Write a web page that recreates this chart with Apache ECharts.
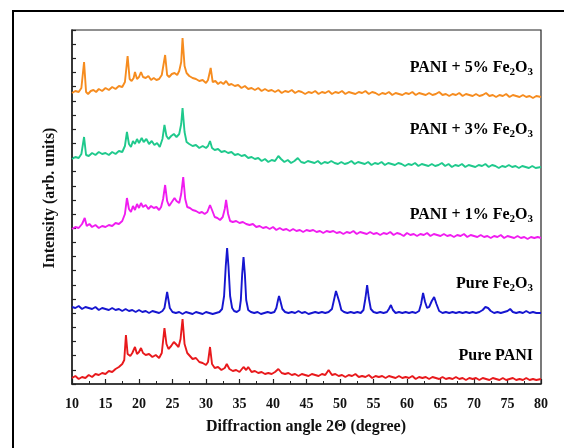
<!DOCTYPE html>
<html>
<head>
<meta charset="utf-8">
<script src="https://cdn.jsdelivr.net/npm/echarts@6/dist/echarts.min.js"></script>
<style>html,body{margin:0;padding:0;background:#fff}#c{width:564px;height:448px}</style>
</head>
<body>
<div id="c"></div>
<script>
// Series names (top to bottom in the figure)
const seriesNames = ['PANI + 5% Fe2O3', 'PANI + 3% Fe2O3', 'PANI + 1% Fe2O3', 'Pure Fe2O3', 'Pure PANI'];
// X axis ticks (2θ, degree)
const xTicks = [10, 15, 20, 25, 30, 35, 40, 45, 50, 55, 60, 65, 70, 75, 80];

// [2θ, intensity (arb. units, stacked offset)]
const purePANI = [[10,6],[10.5,8],[11,5],[11.5,7],[12,6],[12.5,9],[13,7],[13.5,10],[14,9],[14.5,11],[15,10],[15.5,13],[16,12],[16.5,15],[17,17],[17.5,20],[17.8,24],[18.05,49],[18.3,30],[18.7,28],[19,31],[19.4,37],[19.7,30],[20,32],[20.3,36],[20.6,31],[21,29],[21.5,30],[22,27],[22.5,29],[23,26],[23.4,31],[23.8,56],[24.1,40],[24.4,35],[24.8,38],[25.2,42],[25.5,40],[25.9,37],[26.2,45],[26.5,65],[26.8,40],[27.2,31],[27.6,28],[28,25],[28.5,26],[29,22],[29.5,21],[30,19],[30.3,22],[30.6,37],[30.9,20],[31.3,16],[31.8,17],[32.3,14],[32.8,16],[33.1,20],[33.5,15],[34,13],[34.5,14],[35,12],[35.6,17],[36,14],[36.3,17],[36.8,12],[37.3,13],[37.8,11],[38.3,12],[38.8,10],[39.3,11],[39.8,10],[40.3,12],[40.8,15],[41.3,11],[41.8,10],[42.3,11],[42.8,9],[43.3,10],[43.8,8],[44.3,10],[44.8,9],[45.3,8],[45.8,10],[46.3,9],[46.8,8],[47.3,10],[47.8,9],[48.3,14],[48.8,9],[49.3,10],[49.8,8],[50.3,9],[50.8,7],[51.3,9],[51.8,8],[52.3,10],[52.8,7],[53.3,8],[53.8,7],[54.3,9],[54.8,6],[55.3,8],[55.8,7],[56.3,8],[56.8,6],[57.3,8],[57.8,7],[58.3,6],[58.8,8],[59.3,6],[59.8,7],[60.3,6],[60.8,8],[61.3,5],[61.8,7],[62.3,6],[62.8,7],[63.3,5],[63.8,7],[64.3,6],[64.8,5],[65.3,7],[65.8,5],[66.3,6],[66.8,5],[67.3,7],[67.8,5],[68.3,6],[68.8,4],[69.3,6],[69.8,5],[70.3,6],[70.8,4],[71.3,6],[71.8,5],[72.3,4],[72.8,6],[73.3,5],[73.8,4],[74.3,6],[74.8,4],[75.3,5],[75.8,6],[76.3,4],[76.8,5],[77.3,4],[77.8,6],[78.3,4],[78.8,5],[79.3,4],[80,5]];

const pureFe2O3 = [[10,77],[10.5,76],[11,78],[11.5,75],[12,77],[12.5,76],[13,75],[13.5,77],[14,74],[14.5,76],[15,75],[15.5,74],[16,76],[16.5,74],[17,75],[17.5,73],[18,75],[18.5,73],[19,74],[19.5,72],[20,74],[20.5,72],[21,73],[21.5,71],[22,73],[22.5,72],[23,71],[23.5,73],[23.8,76],[24.0,84],[24.2,92],[24.4,84],[24.6,76],[25,72],[25.5,71],[26,72],[26.5,70],[27,72],[27.5,71],[28,70],[28.5,72],[29,71],[29.5,70],[30,72],[30.5,71],[31,70],[31.5,71],[32,72],[32.4,75],[32.7,88],[32.95,118],[33.15,136],[33.35,118],[33.6,88],[33.9,76],[34.2,73],[34.6,72],[35,74],[35.2,84],[35.4,110],[35.6,127],[35.8,110],[36.0,84],[36.3,74],[36.7,72],[37.2,71],[37.7,72],[38.2,70],[38.7,71],[39.2,72],[39.7,71],[40.2,72],[40.5,76],[40.75,84],[40.9,88],[41.1,83],[41.4,75],[41.8,72],[42.3,71],[42.8,72],[43.3,71],[43.8,73],[44.3,71],[44.8,72],[45.3,70],[45.8,71],[46.3,72],[46.8,71],[47.3,72],[47.8,71],[48.3,72],[48.8,75],[49.1,84],[49.4,93],[49.6,92],[49.9,82],[50.2,74],[50.6,72],[51.1,71],[51.6,72],[52.1,71],[52.6,72],[53.1,71],[53.5,74],[53.8,86],[54.05,99],[54.3,86],[54.6,75],[55,72],[55.5,71],[56,72],[56.5,71],[57,72],[57.3,75],[57.6,79],[57.9,74],[58.3,71],[58.8,72],[59.3,71],[59.8,72],[60.3,71],[60.8,72],[61.3,71],[61.8,73],[62.1,80],[62.4,91],[62.7,82],[63.0,76],[63.3,77],[63.7,83],[64.05,87],[64.4,80],[64.8,73],[65.3,71],[65.8,72],[66.3,71],[66.8,72],[67.3,71],[67.8,72],[68.3,71],[68.8,72],[69.3,71],[69.8,72],[70.3,71],[70.8,72],[71.3,74],[71.7,77],[72.1,76],[72.5,73],[73,71],[73.5,72],[74,71],[74.5,72],[75,73],[75.4,75],[75.8,72],[76.3,71],[76.8,72],[77.3,71],[77.8,73],[78.3,71],[78.8,72],[79.3,71],[80,71]];

const pani1 = [[10,155],[10.5,157],[11,156],[11.5,160],[11.9,166],[12.2,158],[12.6,160],[13,157],[13.5,159],[14,156],[14.5,158],[15,157],[15.5,159],[16,158],[16.5,161],[17,160],[17.5,163],[17.9,170],[18.2,186],[18.5,175],[18.8,172],[19.1,178],[19.4,174],[19.7,180],[20,176],[20.3,181],[20.6,177],[21,179],[21.4,175],[21.8,178],[22.2,176],[22.6,177],[23,174],[23.3,177],[23.6,185],[23.9,199],[24.2,183],[24.5,178],[24.9,182],[25.3,186],[25.6,183],[26.0,181],[26.3,190],[26.6,207],[26.9,185],[27.2,177],[27.6,176],[28,174],[28.5,173],[29,171],[29.4,172],[29.8,170],[30.2,172],[30.6,179],[30.9,174],[31.3,167],[31.7,166],[32.1,164],[32.5,167],[32.8,175],[33.0,184],[33.3,170],[33.6,163],[34,162],[34.5,163],[35,161],[35.5,162],[36,160],[36.5,159],[37,160],[37.5,157],[38,158],[38.5,156],[39,157],[39.5,155],[40,157],[40.5,154],[41,156],[41.5,154],[42,155],[42.5,153],[43,155],[43.5,153],[44,154],[44.5,152],[45,154],[45.5,153],[46,154],[46.5,152],[47,153],[47.5,151],[48,153],[48.5,152],[49,153],[49.5,151],[50,152],[50.5,150],[51,152],[51.5,151],[52,153],[52.5,150],[53,152],[53.5,151],[54,150],[54.5,152],[55,150],[55.5,151],[56,149],[56.5,151],[57,150],[57.5,152],[58,149],[58.5,151],[59,150],[59.5,148],[60,151],[60.5,149],[61,150],[61.5,148],[62,150],[62.5,149],[63,151],[63.5,148],[64,150],[64.5,149],[65,148],[65.5,150],[66,148],[66.5,149],[67,147],[67.5,149],[68,148],[68.5,150],[69,147],[69.5,149],[70,148],[70.5,147],[71,149],[71.5,147],[72,148],[72.5,146],[73,148],[73.5,147],[74,149],[74.5,146],[75,148],[75.5,147],[76,146],[76.5,148],[77,146],[77.5,147],[78,145],[78.5,147],[79,146],[79.5,147],[80,146]];

const pani3 = [[10,225],[10.5,227],[11,226],[11.4,230],[11.8,247],[12.1,229],[12.5,228],[13,231],[13.5,229],[14,232],[14.5,230],[15,231],[15.5,229],[16,232],[16.5,230],[17,233],[17.5,232],[17.9,238],[18.2,252],[18.5,240],[18.8,237],[19.1,243],[19.4,240],[19.7,245],[20,241],[20.4,246],[20.7,242],[21.1,245],[21.5,240],[21.9,243],[22.3,239],[22.7,241],[23.1,237],[23.5,245],[23.8,259],[24.1,248],[24.4,245],[24.8,248],[25.2,250],[25.6,247],[26.0,250],[26.3,260],[26.5,276],[26.8,252],[27.1,242],[27.5,240],[28,238],[28.5,239],[29,236],[29.5,238],[30,236],[30.3,238],[30.6,243],[30.9,236],[31.3,234],[31.8,235],[32.3,232],[32.8,233],[33.3,231],[33.8,232],[34.3,229],[34.8,230],[35.3,228],[35.8,229],[36.3,226],[36.8,227],[37.3,225],[37.8,226],[38.3,223],[38.8,225],[39.3,222],[39.8,224],[40.3,223],[40.8,228],[41.2,225],[41.7,222],[42.2,224],[42.7,221],[43.2,223],[43.7,226],[44.2,222],[44.7,221],[45.2,223],[45.7,222],[46.2,221],[46.7,223],[47.2,220],[47.7,222],[48.2,221],[48.7,223],[49.2,221],[49.7,220],[50.2,222],[50.7,220],[51.2,221],[51.7,223],[52.2,220],[52.7,222],[53.2,221],[53.7,220],[54.2,222],[54.7,219],[55.2,221],[55.7,220],[56.2,222],[56.7,219],[57.2,221],[57.7,220],[58.2,219],[58.7,221],[59.2,220],[59.7,218],[60.2,220],[60.7,219],[61.2,221],[61.7,218],[62.2,220],[62.7,219],[63.2,218],[63.7,220],[64.2,218],[64.7,219],[65.2,221],[65.7,218],[66.2,220],[66.7,217],[67.2,219],[67.7,218],[68.2,220],[68.7,217],[69.2,219],[69.7,218],[70.2,217],[70.7,219],[71.2,218],[71.7,220],[72.2,217],[72.7,219],[73.2,218],[73.7,216],[74.2,218],[74.7,217],[75.2,219],[75.7,217],[76.2,218],[76.7,216],[77.2,218],[77.7,217],[78.2,216],[78.7,218],[79.2,216],[80,217]];

const pani5 = [[10,291],[10.5,293],[11,292],[11.4,296],[11.8,322],[12.1,292],[12.4,290],[12.8,293],[13.2,294],[13.6,292],[14,295],[14.5,293],[15,296],[15.5,294],[16,297],[16.5,295],[17,298],[17.5,297],[17.9,302],[18.3,328],[18.6,305],[18.9,303],[19.2,306],[19.4,312],[19.7,305],[20,307],[20.3,312],[20.6,307],[21,306],[21.4,308],[21.8,304],[22.2,306],[22.6,304],[23,305],[23.4,309],[23.9,329],[24.2,309],[24.5,307],[24.9,310],[25.3,311],[25.7,309],[26.0,313],[26.3,322],[26.5,346],[26.8,318],[27.1,311],[27.5,308],[28,306],[28.5,305],[29,303],[29.5,304],[30,301],[30.3,304],[30.7,316],[31.0,302],[31.4,303],[31.8,300],[32.2,302],[32.6,300],[33,303],[33.4,299],[33.8,300],[34.3,298],[34.8,299],[35.3,296],[35.8,298],[36.3,295],[36.8,296],[37.3,294],[37.8,296],[38.3,293],[38.8,295],[39.3,293],[39.8,294],[40.3,292],[40.8,294],[41.3,291],[41.8,293],[42.3,292],[42.8,294],[43.3,291],[43.8,293],[44.3,292],[44.8,290],[45.3,292],[45.8,291],[46.3,293],[46.8,290],[47.3,292],[47.8,291],[48.3,293],[48.8,290],[49.3,292],[49.8,291],[50.3,293],[50.8,290],[51.3,292],[51.8,291],[52.3,290],[52.8,292],[53.3,291],[53.8,293],[54.3,290],[54.8,292],[55.3,291],[55.8,289],[56.3,291],[56.8,290],[57.3,292],[57.8,289],[58.3,291],[58.8,290],[59.3,289],[59.8,291],[60.3,290],[60.8,292],[61.3,289],[61.8,291],[62.3,290],[62.8,289],[63.3,291],[63.8,289],[64.3,290],[64.8,292],[65.3,289],[65.8,290],[66.3,288],[66.8,290],[67.3,289],[67.8,291],[68.3,288],[68.8,290],[69.3,289],[69.8,288],[70.3,290],[70.8,288],[71.3,289],[71.8,291],[72.3,288],[72.8,289],[73.3,287],[73.8,289],[74.3,288],[74.8,290],[75.3,287],[75.8,289],[76.3,288],[76.8,287],[77.3,289],[77.8,287],[78.3,288],[78.8,286],[79.3,288],[80,287]];

const seriesData = [pani5, pani3, pani1, pureFe2O3, purePANI];
const seriesColors = ['#f68c1f', '#1fc98c', '#f01cf0', '#1616d0', '#e8191c'];

const SERIF = '"Liberation Serif", "Times New Roman", serif';
const chart = echarts.init(document.getElementById('c'), null, {renderer: 'canvas'});

function labelText(name) {
  if (name.indexOf('Fe2O3') >= 0) {
    const pre = name.replace('Fe2O3', '');
    return '{b|' + pre + 'Fe}{s|2}{b|O}{s|3}';
  }
  return '{b|' + name + '}';
}
const rich = {
  b: {fontFamily: SERIF, fontWeight: 'bold', fontSize: 16, lineHeight: 20, color: '#111', verticalAlign: 'middle'},
  s: {fontFamily: SERIF, fontWeight: 'bold', fontSize: 11, lineHeight: 11, color: '#111', verticalAlign: 'bottom'}
};
const labelY = [68, 130, 215, 284, 356];

const graphics = [
  {type: 'rect', shape: {x: 13, y: 11, width: 700, height: 600}, style: {fill: 'none', stroke: '#000', lineWidth: 2}, silent: true},
  {type: 'text', x: 306, y: 427, style: {text: 'Diffraction angle 2\u0398 (degree)', font: 'bold 16px ' + SERIF, fill: '#111', align: 'center', verticalAlign: 'middle', textAlign: 'center', textVerticalAlign: 'middle'}},
  {type: 'text', x: 50, y: 198, rotation: Math.PI / 2, style: {text: 'Intensity (arb. units)', font: 'bold 16px ' + SERIF, fill: '#111', align: 'center', verticalAlign: 'middle', textAlign: 'center', textVerticalAlign: 'middle'}}
];
seriesNames.forEach((n, i) => {
  graphics.push({type: 'text', x: 533, y: labelY[i], style: {text: labelText(n), rich: rich, align: 'right', verticalAlign: 'middle', textAlign: 'right', textVerticalAlign: 'middle'}});
});

chart.setOption({
  animation: false,
  backgroundColor: '#fff',
  grid: {left: 72, right: 23, top: 30, bottom: 64, show: true, borderColor: '#222', borderWidth: 1.2},
  xAxis: {
    type: 'value', min: xTicks[0], max: xTicks[xTicks.length - 1], interval: 5,
    axisLine: {lineStyle: {color: '#222', width: 1.5}},
    axisTick: {inside: true, length: 5, lineStyle: {color: '#222', width: 1.2}},
    minorTick: {show: true, splitNumber: 2, length: 3, lineStyle: {color: '#222', width: 1}},
    splitLine: {show: false},
    axisLabel: {margin: 13, fontFamily: SERIF, fontWeight: 'bold', fontSize: 14, color: '#111'}
  },
  yAxis: {
    type: 'value', min: 0, max: 354, interval: 14.16,
    axisLine: {show: true, lineStyle: {color: '#222', width: 1.5}},
    axisTick: {show: true, inside: true, length: 4, lineStyle: {color: '#222', width: 1.2}},
    axisLabel: {show: false},
    splitLine: {show: false}
  },
  graphic: graphics,
  series: seriesData.map((d, i) => ({
    name: seriesNames[i], type: 'line', data: d, showSymbol: false, symbol: 'none',
    lineStyle: {color: seriesColors[i], width: 1.9}, itemStyle: {color: seriesColors[i]}
  }))
});
</script>
</body>
</html>
